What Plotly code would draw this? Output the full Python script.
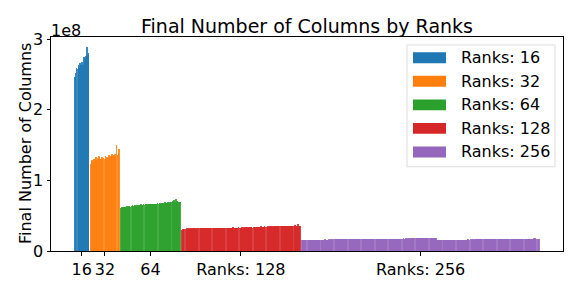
import plotly.graph_objects as go

# values in units of 1e8
ranks = [16, 32, 64, 128, 256]
colors = ["#1f77b4", "#ff7f0e", "#2ca02c", "#d62728", "#9467bd"]
tick_labels = ["16", "32", "64", "Ranks: 128", "Ranks: 256"]

cols_16 = [2.47, 2.52, 2.60, 2.58, 2.63, 2.61, 2.66, 2.64, 2.68, 2.63, 2.75, 2.74, 2.76, 2.89, 2.78, 2.80]

cols_32 = [1.23, 1.27, 1.29, 1.28, 1.31, 1.30, 1.33, 1.29, 1.32, 1.35, 1.31, 1.30, 1.33, 1.31, 1.32, 1.30,
           1.34, 1.31, 1.33, 1.32, 1.36, 1.33, 1.35, 1.38, 1.34, 1.36, 1.37, 1.35, 1.50, 1.36, 1.39, 1.45]

cols_64 = [0.61, 0.62, 0.63, 0.63, 0.62, 0.63, 0.64, 0.63, 0.64, 0.64, 0.63, 0.64, 0.65, 0.64, 0.64, 0.65,
           0.64, 0.65, 0.65, 0.64, 0.65, 0.66, 0.65, 0.65, 0.66, 0.65, 0.66, 0.66, 0.65, 0.66, 0.67, 0.66,
           0.66, 0.67, 0.66, 0.67, 0.67, 0.66, 0.67, 0.68, 0.67, 0.67, 0.68, 0.67, 0.68, 0.68, 0.67, 0.69,
           0.68, 0.68, 0.69, 0.68, 0.70, 0.69, 0.69, 0.71, 0.70, 0.72, 0.70, 0.74, 0.71, 0.69, 0.70, 0.69]

cols_128 = [0.30, 0.31, 0.31, 0.31, 0.31, 0.32, 0.31, 0.32, 0.31, 0.32, 0.32, 0.31, 0.32, 0.32, 0.32, 0.31,
            0.32, 0.32, 0.32, 0.32, 0.32, 0.32, 0.32, 0.33, 0.32, 0.32, 0.32, 0.32, 0.33, 0.32, 0.32, 0.32,
            0.32, 0.33, 0.32, 0.33, 0.33, 0.32, 0.33, 0.33, 0.33, 0.32, 0.33, 0.33, 0.33, 0.33, 0.32, 0.33,
            0.33, 0.33, 0.33, 0.33, 0.33, 0.33, 0.33, 0.34, 0.33, 0.33, 0.33, 0.33, 0.33, 0.34, 0.33, 0.33,
            0.33, 0.34, 0.33, 0.34, 0.33, 0.34, 0.34, 0.33, 0.34, 0.34, 0.34, 0.34, 0.33, 0.34, 0.34, 0.34,
            0.34, 0.34, 0.34, 0.34, 0.34, 0.35, 0.34, 0.34, 0.34, 0.35, 0.34, 0.34, 0.35, 0.34, 0.35, 0.34,
            0.35, 0.35, 0.34, 0.35, 0.35, 0.35, 0.35, 0.35, 0.35, 0.35, 0.35, 0.36, 0.35, 0.35, 0.35, 0.35,
            0.35, 0.36, 0.35, 0.36, 0.35, 0.36, 0.36, 0.36, 0.35, 0.36, 0.37, 0.36, 0.36, 0.38, 0.36, 0.35]

cols_256 = [0.152, 0.156, 0.157, 0.158, 0.157, 0.159, 0.158, 0.160, 0.159, 0.160, 0.161, 0.160, 0.159, 0.161, 0.160, 0.161,
            0.161, 0.162, 0.161, 0.162, 0.163, 0.161, 0.162, 0.163, 0.162, 0.164, 0.163, 0.162, 0.163, 0.164, 0.163, 0.164,
            0.164, 0.163, 0.165, 0.164, 0.165, 0.164, 0.166, 0.165, 0.164, 0.166, 0.165, 0.166, 0.167, 0.165, 0.166, 0.167,
            0.166, 0.167, 0.168, 0.166, 0.167, 0.168, 0.167, 0.168, 0.169, 0.167, 0.168, 0.169, 0.168, 0.169, 0.170, 0.168,
            0.169, 0.170, 0.169, 0.170, 0.171, 0.169, 0.170, 0.171, 0.170, 0.172, 0.171, 0.170, 0.171, 0.172, 0.171, 0.172,
            0.172, 0.171, 0.173, 0.172, 0.173, 0.172, 0.174, 0.173, 0.172, 0.174, 0.173, 0.174, 0.175, 0.173, 0.174, 0.175,
            0.174, 0.175, 0.176, 0.174, 0.175, 0.176, 0.175, 0.177, 0.176, 0.175, 0.177, 0.176, 0.177, 0.178, 0.176, 0.177,
            0.178, 0.177, 0.178, 0.179, 0.177, 0.178, 0.179, 0.178, 0.180, 0.179, 0.178, 0.180, 0.179, 0.180, 0.181, 0.179,
            0.180, 0.181, 0.180, 0.182, 0.181, 0.180, 0.182, 0.181, 0.183, 0.182, 0.181, 0.183, 0.182, 0.184, 0.183, 0.185,
            0.184, 0.156, 0.157, 0.156, 0.158, 0.157, 0.158, 0.159, 0.158, 0.157, 0.159, 0.158, 0.160, 0.159, 0.158, 0.160,
            0.160, 0.159, 0.161, 0.160, 0.161, 0.160, 0.162, 0.161, 0.160, 0.162, 0.161, 0.162, 0.163, 0.161, 0.162, 0.163,
            0.162, 0.163, 0.164, 0.162, 0.163, 0.164, 0.163, 0.165, 0.164, 0.163, 0.165, 0.164, 0.165, 0.166, 0.164, 0.165,
            0.166, 0.165, 0.166, 0.167, 0.165, 0.166, 0.167, 0.166, 0.168, 0.167, 0.166, 0.168, 0.167, 0.168, 0.169, 0.167,
            0.168, 0.169, 0.168, 0.170, 0.169, 0.168, 0.170, 0.169, 0.171, 0.170, 0.169, 0.171, 0.170, 0.171, 0.172, 0.170,
            0.171, 0.172, 0.171, 0.173, 0.172, 0.171, 0.173, 0.172, 0.174, 0.173, 0.172, 0.174, 0.173, 0.175, 0.174, 0.173,
            0.175, 0.174, 0.176, 0.175, 0.174, 0.176, 0.177, 0.175, 0.176, 0.184, 0.178, 0.176, 0.177, 0.175, 0.174, 0.173]

series = [cols_16, cols_32, cols_64, cols_128, cols_256]

FONT = "DejaVu Sans"
fig = go.Figure()

tickvals = []
start = 0
for r, vals, c in zip(ranks, series, colors):
    xs = [start + i for i in range(len(vals))]
    tickvals.append((xs[0] + xs[-1]) / 2)
    fig.add_trace(go.Bar(x=xs, y=vals, width=0.8, marker=dict(color=c, opacity=0.88, line=dict(width=0)),
                         name=f"Ranks: {r}", showlegend=False))
    start = xs[-1] + 2

xmin, xmax = -0.4, start - 2 + 0.4
pad = 0.05 * (xmax - xmin)

fig.update_layout(
    width=581, height=291,
    margin=dict(l=51, r=18, t=37, b=38),
    paper_bgcolor="white", plot_bgcolor="white",
    font=dict(family=FONT, size=16, color="black"),
    bargap=0,
    title=dict(text="Final Number of Columns by Ranks", x=(51 + 256) / 581, xanchor="center",
               y=1 - 26 / 291, yanchor="middle", font=dict(size=19, family=FONT, color="black")),
    xaxis=dict(range=[xmin - pad, xmax + pad], tickmode="array", tickvals=tickvals, ticktext=tick_labels,
               showgrid=False, zeroline=False, showline=True, mirror=True, linecolor="black", linewidth=1,
               ticks="outside", ticklen=3.5, tickcolor="black", tickfont=dict(size=16)),
    yaxis=dict(range=[0, 3.033], tickmode="array", tickvals=[0, 1, 2, 3], ticktext=["0", "1", "2", "3"],
               showgrid=False, zeroline=False, showline=True, mirror=True, linecolor="black", linewidth=1,
               ticks="outside", ticklen=3.5, tickcolor="black", tickfont=dict(size=16)),
)

annotations = [
    dict(text="Final Number of Columns", xref="paper", yref="paper", x=-26 / 512, y=0.5,
         textangle=-90, showarrow=False, xanchor="center", yanchor="middle", font=dict(size=16)),
    dict(text="1e8", xref="paper", yref="paper", x=0.0, y=(253 - 30) / 216,
         showarrow=False, xanchor="left", yanchor="middle", font=dict(size=16), xshift=-2),
]
shapes = [
    dict(type="rect", xref="paper", yref="paper", x0=(407 - 51) / 512, x1=(555 - 51) / 512,
         y0=(253 - 168) / 216, y1=(253 - 45) / 216, line=dict(color="#dcdcdc", width=1),
         fillcolor="rgba(255,255,255,0.8)", layer="above"),
]
row_y = [58, 81.7, 105.5, 129.2, 153]
for r, c, yy in zip(ranks, colors, row_y):
    py = (253 - yy) / 216
    shapes.append(dict(type="rect", xref="paper", yref="paper", x0=(413 - 51) / 512, x1=(446 - 51) / 512,
                       y0=py - 5.5 / 216, y1=py + 5.5 / 216, line=dict(width=0), fillcolor=c, layer="above"))
    annotations.append(dict(text=f"Ranks: {r}", xref="paper", yref="paper", x=(459 - 51) / 512, y=py,
                            showarrow=False, xanchor="left", yanchor="middle", font=dict(size=16)))

fig.update_layout(annotations=annotations, shapes=shapes)
fig.write_html("out.html", config={"displayModeBar": False},
               post_script="document.body.style.margin='0';document.body.style.padding='0';")
